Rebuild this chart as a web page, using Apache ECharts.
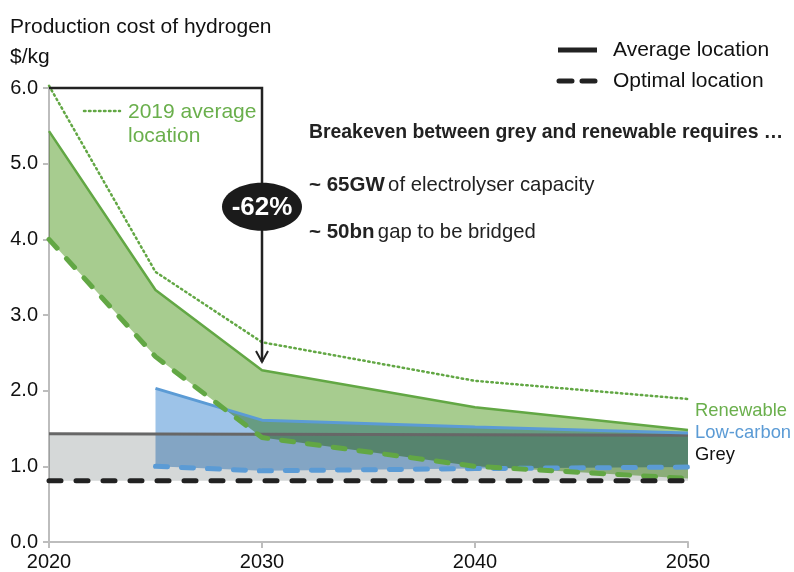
<!DOCTYPE html>
<html><head><meta charset="utf-8">
<script src="https://cdn.jsdelivr.net/npm/echarts@6/dist/echarts.min.js"></script>
<style>html,body{margin:0;padding:0;background:#fff}#c{width:794px;height:572px}</style>
</head><body><div id="c"></div>
<script>
// ---- data ----
const years = [2020, 2025, 2030, 2040, 2050];
const renewableAvg = [5.43, 3.33, 2.27, 1.78, 1.48];
const renewableOpt = [4.0, 2.45, 1.38, 1.0, 0.84];
const renewable2019 = [6.03, 3.57, 2.64, 2.13, 1.89];
const lowCarbonYears = [2025, 2030, 2040, 2050];
const lowCarbonAvg = [2.03, 1.61, 1.52, 1.44];
const lowCarbonOpt = [1.0, 0.94, 0.97, 0.99];
const greyYears = [2020, 2050];
const greyAvg = [1.43, 1.41];
const greyOpt = [0.81, 0.81];
const reductionFrom = [2020, 6.0];
const reductionTo = [2030, 2.38];
const reductionLabelValue = 4.43;
const reductionLabel = '-62%';

// ---- styles ----
const FONT = '"Liberation Sans", Arial, sans-serif';
const GREEN = '#62a744', GREEN_FILL = '#a7cc8f', GREEN_TXT = '#6aaf4c';
const BLUE = '#5b9bd5', BLUE_FILL = '#9dc3e8';
const GREY_FILL = '#d5d8d8', GREY_LINE = '#676767', BLACK = '#222222';

function pairs(xs, ys) { return xs.map((x, i) => [x, ys[i]]); }

function band(xs, up, lo, color, z) {
  return {
    type: 'custom', coordinateSystem: 'cartesian2d', blendMode: 'multiply', silent: true, z: z,
    data: [[xs[0], up[0]]],
    renderItem: function (params, api) {
      const pts = [];
      for (let i = 0; i < xs.length; i++) pts.push(api.coord([xs[i], up[i]]));
      for (let i = xs.length - 1; i >= 0; i--) pts.push(api.coord([xs[i], lo[i]]));
      return { type: 'polygon', shape: { points: pts }, style: { fill: color } };
    }
  };
}
function line(xs, ys, color, width, type, cap, z) {
  return {
    type: 'line', data: pairs(xs, ys), symbol: 'none', silent: true, z: z, clip: false,
    lineStyle: { color: color, width: width, type: type, cap: cap }
  };
}

const chart = echarts.init(document.getElementById('c'), null, { renderer: 'canvas' });
chart.setOption({
  animation: false,
  backgroundColor: '#ffffff',
  grid: { left: 49, right: 106, top: 88, bottom: 30, containLabel: false },
  xAxis: {
    type: 'value', min: 2020, max: 2050, interval: 10,
    axisLine: { show: true, lineStyle: { color: '#bdbdbd', width: 2 } },
    axisTick: { show: true, length: 6, lineStyle: { color: '#bdbdbd', width: 2 } },
    axisLabel: { color: '#111', fontSize: 20, fontFamily: FONT, margin: 10, formatter: v => String(v) },
    splitLine: { show: false }
  },
  yAxis: {
    type: 'value', min: 0, max: 6, interval: 1,
    axisLine: { show: true, lineStyle: { color: '#bdbdbd', width: 2 } },
    axisTick: { show: true, length: 6, lineStyle: { color: '#bdbdbd', width: 2 } },
    axisLabel: { color: '#111', fontSize: 20, fontFamily: FONT, margin: 11, formatter: v => v.toFixed(1) },
    splitLine: { show: false }
  },
  series: [
    band(greyYears, greyAvg, greyOpt, GREY_FILL, 1),
    band(lowCarbonYears, lowCarbonAvg, lowCarbonOpt, BLUE_FILL, 2),
    band(years, renewableAvg, renewableOpt, GREEN_FILL, 3),
    line(greyYears, greyAvg, GREY_LINE, 3, 'solid', 'butt', 4),
    line(lowCarbonYears, lowCarbonAvg, BLUE, 3, 'solid', 'butt', 5),
    line(years, renewableAvg, GREEN, 2.5, 'solid', 'butt', 6),
    line(years, renewable2019, GREEN, 2.5, [1.5, 3.5], 'round', 6),
    line(lowCarbonYears, lowCarbonOpt, BLUE, 5, [12, 14], 'round', 7),
    line(years, renewableOpt, GREEN, 5, [12, 14], 'round', 8),
    line(greyYears, greyOpt, BLACK, 5, [12, 15], 'round', 9),
    {
      type: 'custom', coordinateSystem: 'cartesian2d', silent: true, z: 20,
      data: [[reductionTo[0], reductionTo[1]]],
      renderItem: function (params, api) {
        const a = api.coord(reductionFrom);
        const corner = api.coord([reductionTo[0], reductionFrom[1]]);
        const tip = api.coord(reductionTo);
        const mid = api.coord([reductionTo[0], reductionLabelValue]);
        return {
          type: 'group', children: [
            { type: 'polyline', shape: { points: [a, corner, tip] }, style: { stroke: BLACK, lineWidth: 2.5, fill: null } },
            { type: 'polyline', shape: { points: [[tip[0] - 6, tip[1] - 11], tip, [tip[0] + 6, tip[1] - 11]] }, style: { stroke: BLACK, lineWidth: 2, fill: null } },
            { type: 'ellipse', shape: { cx: mid[0], cy: mid[1], rx: 40, ry: 24 }, style: { fill: '#1b1b1b' } },
            { type: 'text', x: mid[0], y: mid[1] + 1, style: { text: reductionLabel, fill: '#fff', font: 'bold 26px ' + FONT, align: 'center', verticalAlign: 'middle' } }
          ]
        };
      }
    }
  ],
  graphic: [
    { type: 'text', x: 10, y: 27, style: { text: 'Production cost of hydrogen', font: '21px ' + FONT, fill: '#111', verticalAlign: 'middle' } },
    { type: 'text', x: 10, y: 57, style: { text: '$/kg', font: '21px ' + FONT, fill: '#111', verticalAlign: 'middle' } },
    { type: 'line', shape: { x1: 558, y1: 50, x2: 597, y2: 50 }, style: { stroke: BLACK, lineWidth: 5 } },
    { type: 'text', x: 613, y: 50, style: { text: 'Average location', font: '21px ' + FONT, fill: '#111', verticalAlign: 'middle' } },
    { type: 'line', shape: { x1: 559, y1: 81, x2: 597, y2: 81 }, style: { stroke: BLACK, lineWidth: 5, lineDash: [13, 10], lineCap: 'round' } },
    { type: 'text', x: 613, y: 81, style: { text: 'Optimal location', font: '21px ' + FONT, fill: '#111', verticalAlign: 'middle' } },
    { type: 'line', shape: { x1: 84, y1: 111, x2: 120, y2: 111 }, style: { stroke: GREEN, lineWidth: 2.5, lineDash: [1.5, 3.5], lineCap: 'round' } },
    { type: 'text', x: 128, y: 124, style: { text: '2019 average\nlocation', font: '21px ' + FONT, lineHeight: 24, fill: GREEN_TXT, verticalAlign: 'middle' } },
    { type: 'text', x: 309, y: 133, style: { text: 'Breakeven between grey and renewable requires …', font: 'bold 19.4px ' + FONT, fill: '#222', verticalAlign: 'middle' } },
    { type: 'text', x: 309, y: 185, style: { text: '{b|~ 65GW} {n|of electrolyser capacity}', verticalAlign: 'middle', rich: { b: { font: 'bold 20.5px ' + FONT, fill: '#222' }, n: { font: '20.3px ' + FONT, fill: '#222' } } } },
    { type: 'text', x: 309, y: 232, style: { text: '{b|~ 50bn} {n|gap to be bridged}', verticalAlign: 'middle', rich: { b: { font: 'bold 20.5px ' + FONT, fill: '#222' }, n: { font: '20.3px ' + FONT, fill: '#222' } } } },
    { type: 'text', x: 695, y: 411, style: { text: 'Renewable', font: '18.4px ' + FONT, fill: GREEN_TXT, verticalAlign: 'middle' } },
    { type: 'text', x: 695, y: 433, style: { text: 'Low-carbon', font: '18.4px ' + FONT, fill: BLUE, verticalAlign: 'middle' } },
    { type: 'text', x: 695, y: 455, style: { text: 'Grey', font: '18.4px ' + FONT, fill: '#111', verticalAlign: 'middle' } }
  ]
});
</script>
</body></html>
